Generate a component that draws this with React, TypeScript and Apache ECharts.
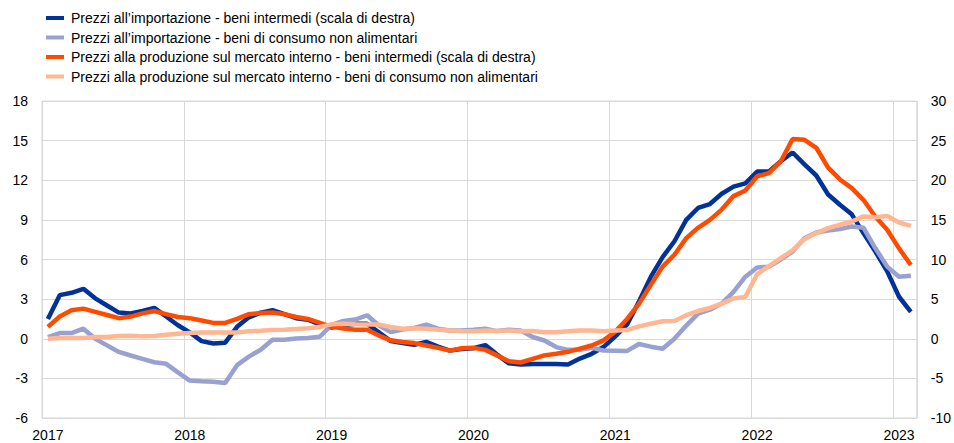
import React, { useEffect, useRef } from "react";
import * as echarts from "echarts";

const months: string[] = [
  "2017-01","2017-02","2017-03","2017-04","2017-05","2017-06","2017-07","2017-08","2017-09","2017-10","2017-11","2017-12",
  "2018-01","2018-02","2018-03","2018-04","2018-05","2018-06","2018-07","2018-08","2018-09","2018-10","2018-11","2018-12",
  "2019-01","2019-02","2019-03","2019-04","2019-05","2019-06","2019-07","2019-08","2019-09","2019-10","2019-11","2019-12",
  "2020-01","2020-02","2020-03","2020-04","2020-05","2020-06","2020-07","2020-08","2020-09","2020-10","2020-11","2020-12",
  "2021-01","2021-02","2021-03","2021-04","2021-05","2021-06","2021-07","2021-08","2021-09","2021-10","2021-11","2021-12",
  "2022-01","2022-02","2022-03","2022-04","2022-05","2022-06","2022-07","2022-08","2022-09","2022-10","2022-11","2022-12",
  "2023-01","2023-02",
];

const seriesNames: string[] = [
  "Prezzi all’importazione - beni intermedi (scala di destra)",
  "Prezzi all’importazione - beni di consumo non alimentari",
  "Prezzi alla produzione sul mercato interno - beni intermedi (scala di destra)",
  "Prezzi alla produzione sul mercato interno - beni di consumo non alimentari",
];

// right scale
const importIntermediate: number[] = [
  2.5, 5.5, 5.8, 6.3, 5.1, 4.2, 3.3, 3.2, 3.5, 3.9, 2.8, 1.7,
  0.8, -0.3, -0.6, -0.5, 1.5, 2.7, 3.3, 3.6, 3.1, 2.6, 2.4, 1.8,
  1.4, 1.7, 1.9, 1.9, 0.8, -0.3, -0.55, -0.75, -0.4, -1.0, -1.5, -1.3,
  -1.2, -0.8, -2.0, -3.1, -3.25, -3.2, -3.2, -3.2, -3.25, -2.5, -1.9, -1.05,
  0.3, 1.8, 4.7, 7.8, 10.3, 12.3, 15.0, 16.5, 17.0, 18.3, 19.2, 19.6,
  21.1, 21.1, 22.4, 23.5, 22.0, 20.6, 18.2, 16.9, 15.7, 13.3, 11.0, 8.5,
  5.3, 3.4,
];

// left scale
const importConsumer: number[] = [
  0.13, 0.43, 0.43, 0.76, 0.0, -0.5, -1.0, -1.27, -1.52, -1.78, -1.9, -2.54,
  -3.17, -3.22, -3.25, -3.35, -2.0, -1.35, -0.83, -0.07, -0.07, 0.02, 0.05, 0.15,
  1.05, 1.35, 1.45, 1.78, 1.0, 0.5, 0.7, 0.82, 1.07, 0.76, 0.63, 0.63,
  0.69, 0.76, 0.58, 0.69, 0.63, 0.13, -0.13, -0.63, -0.84, -0.84, -0.69, -0.89,
  -0.9, -0.92, -0.4, -0.6, -0.76, 0.0, 1.0, 1.9, 2.2, 2.66, 3.55, 4.7,
  5.4, 5.46, 6.0, 6.6, 7.6, 8.05, 8.2, 8.3, 8.5, 8.4, 6.85, 5.46,
  4.7, 4.77,
];

// right scale
const producerIntermediate: number[] = [
  1.5, 2.8, 3.6, 3.8, 3.4, 3.0, 2.6, 2.8, 3.2, 3.5, 3.1, 2.75,
  2.6, 2.3, 2.0, 2.0, 2.5, 3.1, 3.25, 3.3, 3.1, 2.75, 2.5, 2.0,
  1.5, 1.3, 1.15, 1.15, 0.4, -0.2, -0.4, -0.55, -0.85, -1.15, -1.5, -1.2,
  -1.15, -1.4, -2.1, -2.85, -3.0, -2.55, -2.1, -1.9, -1.65, -1.25, -0.85, -0.2,
  0.9, 2.5, 4.4, 6.8, 9.1, 10.6, 12.7, 14.0, 15.0, 16.3, 18.0, 18.7,
  20.5, 20.9, 22.4, 25.2, 25.1, 24.1, 21.6, 20.1, 19.0, 17.5, 15.4, 13.75,
  11.4, 9.3,
];

// left scale
const producerConsumer: number[] = [
  0.0, 0.05, 0.05, 0.05, 0.13, 0.13, 0.2, 0.23, 0.18, 0.2, 0.3, 0.38,
  0.43, 0.48, 0.48, 0.48, 0.48, 0.56, 0.6, 0.66, 0.69, 0.74, 0.79, 0.89,
  1.09, 1.14, 1.09, 1.07, 1.07, 0.89, 0.76, 0.8, 0.76, 0.69, 0.63, 0.58,
  0.56, 0.63, 0.58, 0.63, 0.56, 0.58, 0.5, 0.5, 0.56, 0.63, 0.63, 0.56,
  0.63, 0.66, 0.94, 1.14, 1.32, 1.35, 1.78, 2.1, 2.33, 2.66, 3.05, 3.17,
  4.9, 5.5, 6.1, 6.7, 7.54, 8.0, 8.38, 8.63, 8.88, 9.26, 9.2, 9.3,
  8.8, 8.55,
];

const colors: string[] = ["#003299", "#98A1D0", "#FF4B00", "#FFB691"];
const FONT = "'Liberation Sans', Arial, Helvetica, sans-serif";

export default function App() {
  const ref = useRef<HTMLDivElement>(null);

  useEffect(() => {
    if (!ref.current) return;
    const chart = echarts.init(ref.current, undefined, { renderer: "svg" });
    const dataSets = [importIntermediate, importConsumer, producerIntermediate, producerConsumer];
    const axisIdx = [1, 0, 1, 0];
    const gridColor = "#d9d9d9";

    chart.setOption({
      animation: false,
      textStyle: { fontFamily: FONT },
      grid: {
        left: 42,
        right: 37,
        top: 101,
        bottom: 25,
        show: true,
        borderColor: gridColor,
        borderWidth: 1,
      },
      legend: {
        orient: "vertical",
        left: 41,
        top: 5,
        icon: "rect",
        itemWidth: 18,
        itemHeight: 4,
        itemGap: 3.5,
        data: seriesNames,
        textStyle: {
          fontFamily: FONT,
          fontSize: 14,
          lineHeight: 16,
          color: "#000",
          padding: [0, 0, 0, 2],
        },
      },
      xAxis: {
        type: "category",
        data: months,
        boundaryGap: true,
        axisLine: { show: false },
        axisTick: { show: false },
        axisLabel: {
          interval: 11,
          margin: 10,
          fontSize: 14,
          color: "#000",
          fontFamily: FONT,
          formatter: (v: string) => v.slice(0, 4),
        },
        splitLine: { show: true, interval: 11, lineStyle: { color: gridColor, width: 1 } },
      },
      yAxis: [
        {
          type: "value",
          min: -6,
          max: 18,
          interval: 3,
          position: "left",
          axisLine: { show: false },
          axisTick: { show: false },
          axisLabel: { fontSize: 14, color: "#000", margin: 14, fontFamily: FONT },
          splitLine: { show: true, lineStyle: { color: gridColor, width: 1 } },
        },
        {
          type: "value",
          min: -10,
          max: 30,
          interval: 5,
          position: "right",
          axisLine: { show: false },
          axisTick: { show: false },
          axisLabel: { fontSize: 14, color: "#000", margin: 14, fontFamily: FONT },
          splitLine: { show: false },
        },
      ],
      series: seriesNames.map((name, k) => ({
        name,
        type: "line",
        yAxisIndex: axisIdx[k],
        data: dataSets[k],
        showSymbol: false,
        symbol: "none",
        color: colors[k],
        lineStyle: { color: colors[k], width: 4.5 },
        emphasis: { disabled: true },
      })),
    });

    return () => chart.dispose();
  }, []);

  return (
    <div
      ref={ref}
      style={{ position: "fixed", left: 0, top: 0, width: 954, height: 443, background: "#fff" }}
    />
  );
}
